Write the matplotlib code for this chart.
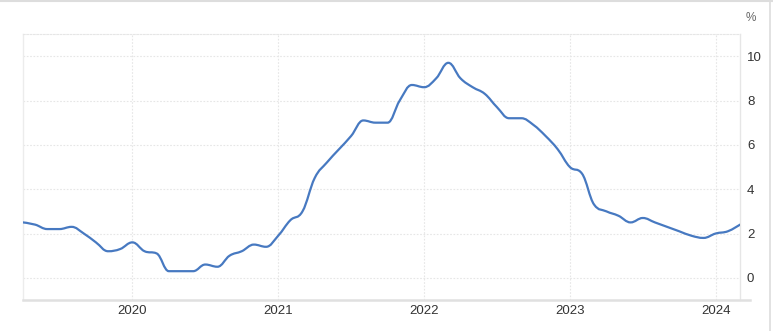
import numpy as np
import matplotlib
matplotlib.use("Agg")
import matplotlib.pyplot as plt
from matplotlib.path import Path
from matplotlib.patches import PathPatch
from matplotlib.lines import Line2D

# ---- data: monthly values, Apr 2019 .. Mar 2024 ----
start_year = 2019
start_month = 4
values = [
    2.5, 2.4, 2.2, 2.2, 2.3, 2.0, 1.6, 1.2, 1.3,                 # 2019 Apr-Dec
    1.6, 1.2, 1.1, 0.3, 0.3, 0.3, 0.6, 0.5, 1.0, 1.2, 1.5, 1.4,  # 2020
    1.9, 2.6, 3.0, 4.5, 5.2, 5.8, 6.4, 7.1, 7.0, 7.0, 8.0, 8.7,  # 2021
    8.6, 9.0, 9.7, 9.0, 8.6, 8.3, 7.7, 7.2, 7.2, 6.9, 6.4, 5.8,  # 2022
    5.0, 4.7, 3.3, 3.0, 2.8, 2.5, 2.7, 2.5, 2.3, 2.1, 1.9, 1.8,  # 2023
    2.0, 2.1, 2.4,                                               # 2024 Jan-Mar
]
year_ticks = [2020, 2021, 2022, 2023, 2024]
y_ticks = [0, 2, 4, 6, 8, 10]

x = np.array([start_year + (start_month - 1 + i) / 12.0 for i in range(len(values))])
y = np.array(values, dtype=float)


def spline_path(xs, ys, smoothing=1.5, denom=2.5):
    """Highcharts-style spline as cubic Bezier segments in data coords."""
    n = len(xs)
    right = [None] * n
    verts = [(xs[0], ys[0])]
    codes = [Path.MOVETO]
    for i in range(1, n):
        px, py = xs[i], ys[i]
        lx, ly = xs[i - 1], ys[i - 1]
        lcx, lcy = px, py
        if i < n - 1:
            nx, ny = xs[i + 1], ys[i + 1]
            lcx = (smoothing * px + lx) / denom
            lcy = (smoothing * py + ly) / denom
            rcx = (smoothing * px + nx) / denom
            rcy = (smoothing * py + ny) / denom
            corr = 0.0
            if rcx != lcx:
                corr = (rcy - lcy) * (rcx - px) / (rcx - lcx) + py - rcy
            lcy += corr
            rcy += corr
            if lcy > ly and lcy > py:
                lcy = max(ly, py)
                rcy = 2 * py - lcy
            elif lcy < ly and lcy < py:
                lcy = min(ly, py)
                rcy = 2 * py - lcy
            if rcy > ny and rcy > py:
                rcy = max(ny, py)
                lcy = 2 * py - rcy
            elif rcy < ny and rcy < py:
                rcy = min(ny, py)
                lcy = 2 * py - rcy
            right[i] = (rcx, rcy)
        prev_rc = right[i - 1] if right[i - 1] is not None else (lx, ly)
        verts += [prev_rc, (lcx, lcy), (px, py)]
        codes += [Path.CURVE4, Path.CURVE4, Path.CURVE4]
    return Path(verts, codes)


plt.rcParams['font.family'] = ['Liberation Sans', 'DejaVu Sans']

fig = plt.figure(figsize=(7.73, 3.31), dpi=100)
fig.patch.set_facecolor('white')
ax = fig.add_axes([23 / 773, 31 / 331, 717 / 773, 266 / 331])

line_color = '#4779c1'
patch = PathPatch(spline_path(x, y), facecolor='none', edgecolor=line_color,
                  lw=1.6, capstyle='round', joinstyle='round', zorder=3)
ax.add_patch(patch)
# invisible line so autoscaling/limits know the data
ax.plot(x, y, alpha=0)

ax.set_xlim(x[0], x[-1])
ax.set_ylim(-1, 11)

ax.set_xticks(year_ticks)
ax.set_xticklabels([str(t) for t in year_ticks])
ax.set_yticks(y_ticks)
ax.set_yticklabels([str(t) for t in y_ticks])
ax.yaxis.tick_right()
ax.tick_params(axis='both', length=0, labelsize=9.5, labelcolor='#333333')
ax.tick_params(axis='x', pad=3.5)
ax.tick_params(axis='y', pad=5)

grid_kw = dict(color='#e6e6e6', lw=0.8, linestyle=(0, (1.5, 1.5)))
ax.grid(True, axis='both', **grid_kw)
ax.set_axisbelow(True)

ax.spines['top'].set_color('#e6e6e6')
ax.spines['top'].set_linestyle((0, (1.5, 1.5)))
ax.spines['top'].set_linewidth(0.8)
ax.spines['left'].set_color('#ececec')
ax.spines['left'].set_linewidth(1.0)
ax.spines['right'].set_color('#e6e6e6')
ax.spines['right'].set_linewidth(1.0)
ax.spines['bottom'].set_visible(False)

# bottom axis line, extending slightly past the right axis
fig.add_artist(Line2D([23 / 773, 750 / 773], [31 / 331, 31 / 331], transform=fig.transFigure,
                      color='#e0e0e0', lw=1.8, zorder=2))

fig.text(751 / 773, 1 - 18 / 331, '%', ha='center', va='center',
         fontsize=8.5, color='#666666')

# outer frame (top and right edges)
fig.add_artist(Line2D([0, 1], [1 - 0.5 / 331, 1 - 0.5 / 331], transform=fig.transFigure,
                      color='#dddddd', lw=1.5))
fig.add_artist(Line2D([769.5 / 773, 769.5 / 773], [0, 1], transform=fig.transFigure,
                      color='#dddddd', lw=1.2))

fig.savefig('out.png', dpi=100, facecolor='white')
